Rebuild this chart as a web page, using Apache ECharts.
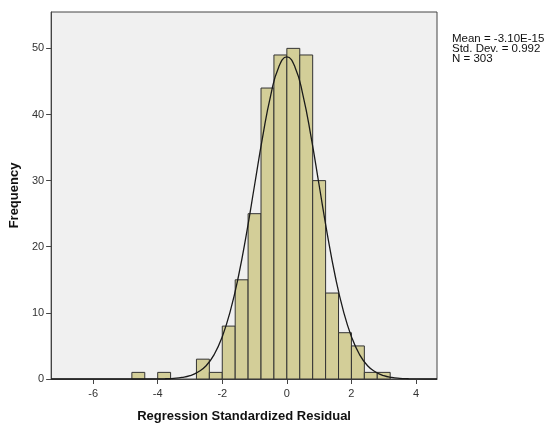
<!DOCTYPE html>
<html>
<head>
<meta charset="utf-8">
<script src="https://cdn.jsdelivr.net/npm/echarts@6/dist/echarts.min.js"></script>
<style>
html, body { margin: 0; padding: 0; background: #fff; }
#chart_1 { width: 547px; height: 428px; }
</style>
</head>
<body>
<div id="chart_1"></div>
<script>
// histogram bins (start of each bin, width 0.4) and counts
var binWidth = 0.4;
var binStart = [-4.8, -4.0, -2.8, -2.4, -2.0, -1.6, -1.2, -0.8, -0.4, 0.0, 0.4, 0.8, 1.2, 1.6, 2.0, 2.4, 2.8];
var counts = [1, 1, 3, 1, 8, 15, 25, 44, 49, 50, 49, 30, 13, 7, 5, 1, 1];

// normal curve
var curveX = [-7.3, -5, -4.5, -4, -3.75, -3.5, -3.25, -3, -2.75, -2.5, -2.25, -2, -1.75, -1.5, -1.25, -1, -0.75, -0.5, -0.25, 0,
	0.25, 0.5, 0.75, 1, 1.25, 1.5, 1.75, 2, 2.25, 2.5, 2.75, 3, 3.25, 3.5, 3.75, 4, 4.5, 4.65];
var curveY = [0, 0, 0, 0.01, 0.04, 0.1, 0.23, 0.5, 1.05, 2.0, 3.7, 6.4, 10.3, 15.5, 22.0, 29.3, 36.6, 42.9, 47.2, 48.7,
	47.2, 42.9, 36.6, 29.3, 22.0, 15.5, 10.3, 6.4, 3.7, 2.0, 1.05, 0.5, 0.23, 0.1, 0.04, 0.01, 0, 0];

var xTicks = [-6, -4, -2, 0, 2, 4];
var yTicks = [0, 10, 20, 30, 40, 50];
var statsText = ['Mean = -3.10E-15', 'Std. Dev. = 0.992', 'N = 303'];

var barData = [];
for (var i = 0; i < binStart.length; i++) {
	barData.push([binStart[i], binStart[i] + binWidth, counts[i]]);
}
var lineData = [];
for (var j = 0; j < curveX.length; j++) {
	lineData.push([curveX[j], curveY[j]]);
}

var myChart = echarts.init(document.getElementById('chart_1'));

var option = {
	backgroundColor: '#ffffff',
	animation: false,
	textStyle: { fontFamily: 'Liberation Sans, Arial, sans-serif' },
	grid: {
		left: 51,
		right: 110,
		top: 12,
		bottom: 42,
		show: true,
		backgroundColor: '#f0f0f0',
		borderColor: '#444444',
		borderWidth: 1
	},
	xAxis: {
		type: 'value',
		min: -7.3,
		max: 4.65,
		name: 'Regression Standardized Residual',
		nameLocation: 'middle',
		nameGap: 31,
		nameTextStyle: { fontSize: 13, fontWeight: 'bold', color: '#111' },
		axisLine: { show: true, onZero: false, lineStyle: { color: '#444', width: 1 } },
		axisTick: { show: true, length: 5, customValues: xTicks, lineStyle: { color: '#444' } },
		axisLabel: { customValues: xTicks, fontSize: 11, color: '#333', margin: 9 },
		splitLine: { show: false }
	},
	yAxis: {
		type: 'value',
		min: 0,
		max: 55.5,
		name: 'Frequency',
		nameLocation: 'middle',
		nameRotate: 90,
		nameGap: 19,
		nameTextStyle: { fontSize: 13, fontWeight: 'bold', color: '#111' },
		axisLine: { show: true, onZero: false, lineStyle: { color: '#444', width: 1 } },
		axisTick: { show: true, length: 5, customValues: yTicks, lineStyle: { color: '#444' } },
		axisLabel: { customValues: yTicks, fontSize: 11, color: '#333', margin: 7 },
		splitLine: { show: false }
	},
	graphic: [{
		type: 'text',
		left: 452,
		top: 33,
		style: {
			text: statsText.join('\n'),
			fontSize: 11.5,
			lineHeight: 10,
			fill: '#111',
			fontFamily: 'Liberation Sans, Arial, sans-serif'
		}
	}],
	series: [{
			type: 'custom',
			renderItem: function(params, api) {
				var p0 = api.coord([api.value(0), api.value(2)]);
				var p1 = api.coord([api.value(1), 0]);
				return {
					type: 'rect',
					shape: { x: p0[0], y: p0[1], width: p1[0] - p0[0], height: p1[1] - p0[1] },
					style: { fill: '#d3ce98', stroke: '#333333', lineWidth: 1 }
				};
			},
			encode: { x: [0, 1], y: 2 },
			data: barData,
			z: 2
		},
		{
			type: 'line',
			data: lineData,
			smooth: true,
			showSymbol: false,
			lineStyle: { color: '#1a1a1a', width: 1.3 },
			z: 3
		}
	]
};

myChart.setOption(option);
</script>
</body>
</html>
